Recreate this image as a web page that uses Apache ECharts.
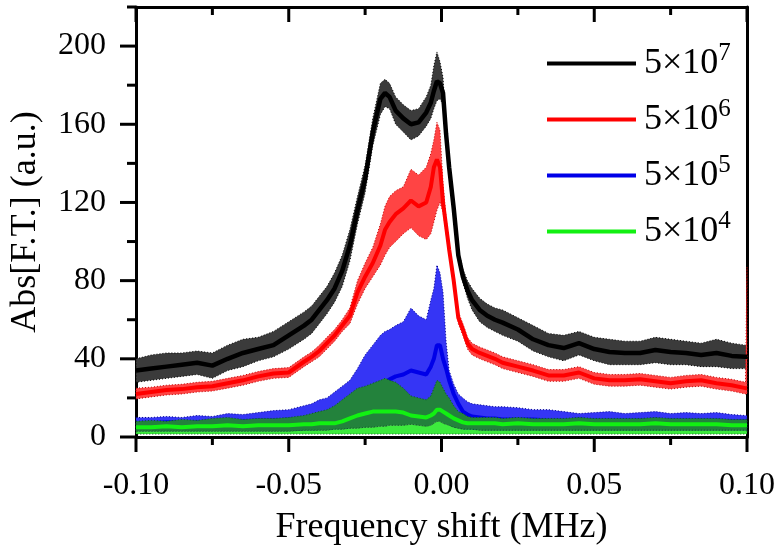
<!DOCTYPE html>
<html>
<head>
<meta charset="utf-8">
<script src="https://cdn.jsdelivr.net/npm/echarts@6/dist/echarts.min.js"></script>
<style>html,body{margin:0;padding:0;background:#fff}#chart{width:780px;height:553px}</style>
</head>
<body>
<div id="chart"></div>
<script>
// ---- data (frequency shift in MHz) ----
const xs = [
  -0.1, -0.095, -0.09, -0.085, -0.08, -0.075, -0.07, -0.065, -0.06, -0.055,
  -0.05, -0.045, -0.0425, -0.04, -0.0375, -0.035, -0.0325, -0.03, -0.0275, -0.025,
  -0.0225, -0.02, -0.0185, -0.017, -0.015, -0.0125, -0.01, -0.0075, -0.005, -0.0035,
  -0.0025, -0.0015, -0.0005, 0.0005, 0.0015, 0.0025, 0.004, 0.0055, 0.007, 0.0085,
  0.01, 0.0125, 0.015, 0.0175, 0.02, 0.025, 0.03, 0.035, 0.04, 0.045,
  0.05, 0.055, 0.06, 0.065, 0.07, 0.075, 0.08, 0.085, 0.09, 0.095,
  0.0995, 0.1
];
const blackMean = [34,35,36,37,38,36.5,40,43,45,47, 52,57,60,65,70,76,85,98,116,132, 156,173,176,174,167,163,160,161,166,171, 177,182,181,176,155,138,117,93,82,75, 70,65,62,60,58.5,55,50,47,45.5,48, 45,43.5,43,43,44.5,43.5,43,42,43,41.5, 41,41];
const blackUpper = [40,42,43,43,44,43,47,50,51,54, 59,64,67,72,77,84,93,106,123,139, 163,181,183,181,174,170,167,168,174,180, 190,197,192,184,158,141,120,96,86,80, 76,71,68,66,65,61,57,53,52,54, 51,50,49,49,51,50,49,48,50,48, 47,47];
const blackLower = [28,29,30,31,32,30,34,36,39,41, 45,50,53,58,63,69,77,90,109,125, 149,165,169,168,160,156,152,154,159,163, 168,172,173,170,152,135,114,90,79,71, 65,59,56,54,52,49,44,41,39,42, 39,37,37,37,38,37,37,36,36,35, 35,35];
const redMean = [22,23,24,24.5,25.5,26,27.5,29,31,32.5, 33,38.5,41,44,48,52,57,62,74,82, 89,98,106,110,114,117,121,118,120,128, 138,142,138,120,108,96,80,61,55,48, 45,43,41.5,40,38,36,34,31.5,31.5,33, 30,29,29,29.5,28.5,27.5,28.5,29,27.5,26.5, 25,25];
const redUpper = [25,25.5,26.5,27,28,28.5,30,31.5,33.5,35, 35.5,41,43.5,47,51,55,60,66,80,89, 97,109,118,123,126,128,137,134,138,145, 152,161,157,130,112,99,83,64,58,51, 48,46,44.5,43,41,39,37,34.5,34.5,36, 33,32,32,32.5,31.5,30.5,31.5,32,30.5,29.5, 28,87];
const redLower = [19.5,20.5,21.5,22,23,23.5,25,26.5,28.5,30, 30.5,36,38.5,41,45,49,54,58,68,76, 82,88,93,97,100,104,107,103,101,104, 110,116,120,115,104,93,77,58,52,45, 42,40,38.5,37,35,33,31,28.5,28.5,30, 27,26,26,26.5,25.5,24.5,25.5,26,24.5,23.5, 22,22];
const blueMean = [7,7,7.5,7.5,7.5,8,8,8,8.5,8.5, 9,9.5,10,10.5,11,11.5,13,14,17,20, 23,26,28,29.5,31,32,34,33,32,36, 40,47,47,40,35,29,22,17,13,11.5, 10.5,10,9.5,9.5,9,9,9,8.5,8.5,9, 8.5,8.5,8.5,8.5,9,8.5,8.5,8.5,8.5,8, 8,8];
const blueUpper = [10,10,10.5,10,11,10.5,12,11.5,12.5,13.5, 14,16,17,19,20,23,26,29,35,42, 47,52,54,55,57,59,66,62,60,70, 76,88,84,74,49,34,27,22,20,18, 17,16.5,16,15.5,15.5,15,14,14,13,12, 12.5,13,12,12.5,13,12,12.5,12,12.5,11.5, 11,11];
const blueLower = [3,3,3,3,3,3,3,3,3,3, 3,3,3,3.5,3.5,4,4,4.5,5,5, 5.5,6,6,6.5,6.5,7,7,6.5,6,7, 8,9,9,8,7,6,5,4.5,4,3.5, 3.5,3.5,3,3,3,3,3,3,3,3, 3,3,3,3,3,3,3,3,3,3, 3,3];
const greenMean = [5,5,5.5,5,5.5,5.5,6,5.5,6,6, 6,6.5,6.5,7,7,7,8,9.5,11,12, 13,13,13,13,13,12.5,11,10.5,10,11, 12,14,14,13,12,11,9.5,8.5,7.5,7, 7,7,7,7,6.5,7,6.5,6.5,6.5,7, 6.5,6.5,6.5,6.5,7,6.5,6.5,6.5,6.5,6, 6,6];
const greenUpper = [8,8.5,8,9,8.5,9.5,10,9,9.5,9.5, 10,11,12,13,14,16,19,22,25,26, 27.5,29,30,29,28,25,21,20,19,21, 25,29,28,25,22,20,16,13,12,10.5, 10,10,10,10,9.5,10,9.5,9.5,9.5,10, 9.5,9.5,9.5,9.5,10,9.5,9.5,9.5,9.5,9, 9,9];
const greenLower = [3,3,3,3,3,3,3,3,3,3, 3,3.5,3.5,3.5,3.5,4,4,4.5,4.5,5, 5,5.5,5.5,6,6,6,6.5,6,5.5,6, 7,8,8,7,6.5,6,5,4.5,4,4, 4,3.5,3.5,3.5,3.5,3.5,3.5,3.5,3.5,3.5, 3.5,3.5,3.5,3.5,3.5,3.5,3.5,3.5,3.5,3.5, 3.5,3.5];
const greenFloor = 1.5;

const seriesNames = ['5×10^7', '5×10^6', '5×10^5', '5×10^4'];
const xAxisTitle = 'Frequency shift (MHz)';
const yAxisTitle = 'Abs[F.T.] (a.u.)';
const xRange = [-0.1, 0.1], xStep = 0.05;
const yRange = [0, 220], yStep = 40;
const xMajorTicks = [-0.1, -0.05, 0, 0.05, 0.1];
const xMinorTicks = [-0.075, -0.025, 0.025, 0.075];
const yMajorTicks = [0, 40, 80, 120, 160, 200];
const yMinorTicks = [20, 60, 100, 140, 180, 220];

// ---- styling ----
const FONT = '"Liberation Serif", "Times New Roman", serif';
function axLine() { return {color: '#000000', width: 3}; }
function pairs(arr) { return xs.map((x, i) => [x, arr[i]]); }

function band(lower, upper, fill, stroke, z) {
  const lo = i => (Array.isArray(lower) ? lower[i] : lower);
  return {
    type: 'custom', z: z, silent: true, animation: false,
    xAxisIndex: 0, yAxisIndex: 0,
    data: xs.map((x, i) => [x, lo(i), upper[i]]),
    encode: {x: 0, y: [1, 2]},
    renderItem: function (params, api) {
      if (params.dataIndex !== 0) return null;
      const pts = [];
      for (let i = 0; i < xs.length; i++) pts.push(api.coord([xs[i], upper[i]]));
      for (let i = xs.length - 1; i >= 0; i--) pts.push(api.coord([xs[i], lo(i)]));
      return {type: 'polygon', shape: {points: pts},
        style: {fill: fill, stroke: stroke, lineWidth: 1, lineDash: [1, 2]}};
    }
  };
}
function line(name, arr, color, width, z) {
  return {
    type: 'line', name: name, data: pairs(arr), z: z,
    xAxisIndex: 0, yAxisIndex: 0,
    showSymbol: false, symbol: 'none', silent: true, animation: false,
    lineStyle: {color: color, width: width}, itemStyle: {color: color}
  };
}
// tick marks placed through the axis scales (api.coord)
function tickSeries() {
  return {
    type: 'custom', z: 20, silent: true, animation: false, clip: false,
    xAxisIndex: 0, yAxisIndex: 0,
    data: [[xRange[0], yRange[0]]],
    encode: {x: 0, y: 1},
    renderItem: function (params, api) {
      const kids = [];
      const st = {stroke: '#000', lineWidth: 3, lineCap: 'butt'};
      const yB = api.coord([xRange[0], yRange[0]])[1];
      const yT = api.coord([xRange[0], yRange[1]])[1];
      const xL = api.coord([xRange[0], yRange[0]])[0];
      const add = (x1, y1, x2, y2) => kids.push({type: 'line', shape: {x1, y1, x2, y2}, style: st});
      xMajorTicks.forEach(v => { const x = api.coord([v, yRange[0]])[0]; add(x, yB, x, yB + 15); add(x, yT, x, yT + 15); });
      xMinorTicks.forEach(v => { const x = api.coord([v, yRange[0]])[0]; add(x, yB, x, yB + 8); add(x, yT, x, yT + 8); });
      yMajorTicks.forEach(v => { const y = api.coord([xRange[0], v])[1]; add(xL - 16, y, xL, y); });
      yMinorTicks.forEach(v => { const y = api.coord([xRange[0], v])[1]; add(xL - 9, y, xL, y); });
      return {type: 'group', children: kids};
    }
  };
}

const option = {
  animation: false,
  backgroundColor: '#fff',
  textStyle: {fontFamily: FONT},
  grid: {left: 136, right: 33, top: 7, bottom: 116, containLabel: false, outerBoundsMode: 'none'},
  legend: {
    data: seriesNames, orient: 'vertical', left: 542, top: 36,
    itemWidth: 89, itemHeight: 4, itemGap: 11, icon: 'rect', selectedMode: false,
    formatter: function (n) { const p = n.split('^'); return '{b|' + p[0] + '}{s|' + p[1] + '}'; },
    textStyle: {
      padding: [0, 0, 0, 3],
      rich: {
        b: {fontFamily: FONT, fontSize: 36, color: '#000', lineHeight: 40},
        s: {fontFamily: FONT, fontSize: 25, color: '#000', lineHeight: 12, padding: [0, 0, 20, 0]}
      }
    }
  },
  xAxis: [
    {
      type: 'value', position: 'bottom', min: xRange[0], max: xRange[1], interval: xStep,
      axisLine: {show: true, onZero: false, lineStyle: axLine()},
      axisTick: {show: false}, minorTick: {show: false},
      axisLabel: {
        show: true,
        formatter: v => (Math.abs(v) < 1e-9 ? '0.00' : v.toFixed(2)),
        fontFamily: FONT, fontSize: 32, color: '#000', margin: 33
      },
      splitLine: {show: false}, minorSplitLine: {show: false},
      name: xAxisTitle, nameLocation: 'middle', nameGap: 73,
      nameTextStyle: {fontFamily: FONT, fontSize: 36, color: '#000'}
    },
    {
      type: 'value', position: 'top', min: xRange[0], max: xRange[1], interval: xStep,
      axisLine: {show: true, onZero: false, lineStyle: axLine()},
      axisTick: {show: false}, axisLabel: {show: false}, splitLine: {show: false}
    }
  ],
  yAxis: [
    {
      type: 'value', position: 'left', min: yRange[0], max: yRange[1], interval: yStep,
      axisLine: {show: true, onZero: false, lineStyle: axLine()},
      axisTick: {show: false},
      axisLabel: {show: true, fontFamily: FONT, fontSize: 32, color: '#000', margin: 30, showMaxLabel: false},
      splitLine: {show: false},
      name: yAxisTitle, nameLocation: 'middle', nameGap: 92,
      nameTextStyle: {fontFamily: FONT, fontSize: 36, color: '#000'}
    },
    {
      type: 'value', position: 'right', min: yRange[0], max: yRange[1],
      axisLine: {show: true, onZero: false, lineStyle: axLine()},
      axisTick: {show: false}, axisLabel: {show: false}, splitLine: {show: false}
    }
  ],
  series: [
    band(blackLower, blackUpper, '#3b3b3b', '#000', 2),
    band(redLower, redUpper, '#ff4444', '#c00000', 3),
    band(blueLower, blueUpper, '#3535f5', '#00008b', 4),
    line(seriesNames[2], blueMean, '#0000e8', 4, 5),
    band(greenFloor, greenLower, '#3deb3d', '#0a5a1e', 6),
    band(greenLower, greenUpper, '#23823c', '#0a5a1e', 6),
    line(seriesNames[3], greenMean, '#12f012', 4, 7),
    line(seriesNames[1], redMean, '#ff0000', 4, 8),
    line(seriesNames[0], blackMean, '#000000', 4.5, 9),
    tickSeries()
  ]
};

const chart = echarts.init(document.getElementById('chart'), null, {renderer: 'canvas'});
chart.setOption(option);
</script>
</body>
</html>
